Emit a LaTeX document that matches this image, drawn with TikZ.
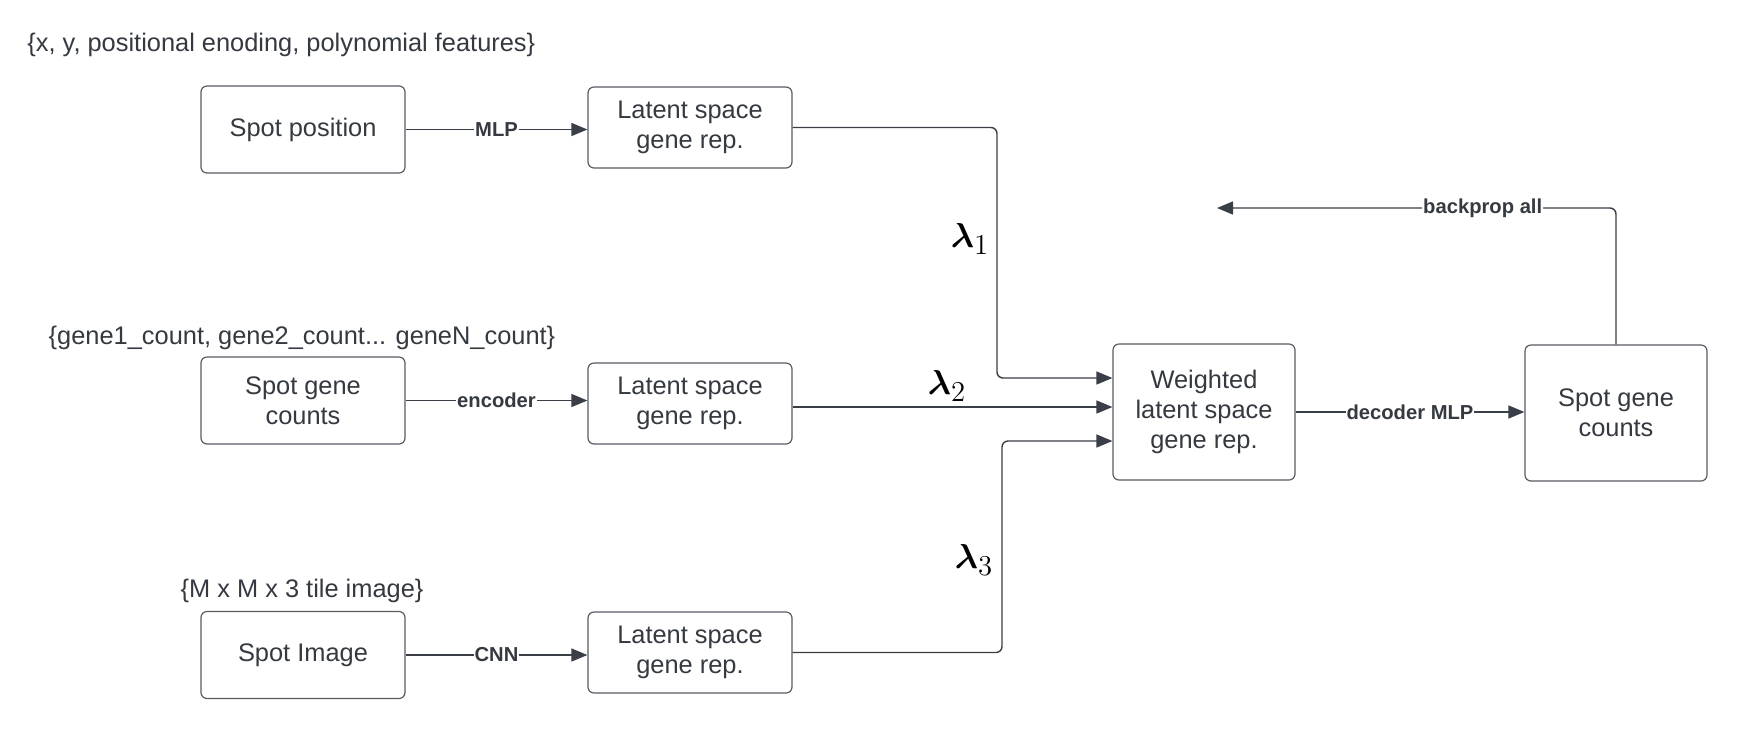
\documentclass[tikz,border=0pt]{standalone}
\usepackage{fontspec}
\usepackage{amsmath}
\setmainfont{Liberation Sans}
\usetikzlibrary{arrows.meta,calc}
\definecolor{ln}{HTML}{3A3F47}
\definecolor{tx}{HTML}{353A41}
\begin{document}
\begin{tikzpicture}[x=0.5pt,y=-0.5pt,
  box/.style={draw=ln!85,line width=0.6pt,rounded corners=3pt,align=center,text=tx,
    font=\fontsize{12.7pt}{15pt}\selectfont,inner sep=0pt},
  small/.style={box,minimum width=102pt,minimum height=43.5pt},
  lat/.style={box,minimum width=102pt,minimum height=40.5pt},
  big/.style={box,minimum width=91pt,minimum height=68pt},
  arr/.style={draw=ln,line width=0.7pt,-{Triangle[length=8pt,width=6.5pt]}},
  lbl/.style={fill=white,inner sep=0.5pt,text=tx,font=\bfseries\fontsize{10.1pt}{12pt}\selectfont},
  ttl/.style={text=tx,font=\fontsize{12.7pt}{15pt}\selectfont,inner sep=0pt},
  lam/.style={text=black,font=\fontsize{19pt}{22pt}\selectfont,inner sep=0pt}]
\useasboundingbox (0,0) rectangle (1742,752);
\fill[white] (0,0) rectangle (1742,752);
% titles
\node[ttl,anchor=west] (t1) at (27,45) {\{x, y, positional enoding, polynomial features\}};
\node[ttl] (t2) at (302,338) {\{gene1\_count, gene2\_count... geneN\_count\}};
\node[ttl] (t3) at (302,591) {\{M x M x 3 tile image\}};
% input boxes
\node[small] (sp) at (303,129.5) {Spot position};
\node[small] (sg) at (303,400.5) {Spot gene\\counts};
\node[small] (si) at (303,655) {Spot Image};
% latent boxes
\node[lat] (l1) at (690,127.5) {Latent space\\gene rep.};
\node[lat] (l2) at (690,403.5) {Latent space\\gene rep.};
\node[lat] (l3) at (690,652.5) {Latent space\\gene rep.};
% weighted and output
\node[big] (w) at (1204,412) {Weighted\\latent space\\gene rep.};
\node[big] (o) at (1616,413) {Spot gene\\counts};
% coordinates
\coordinate (c1) at (997,378);
\coordinate (c2) at ($(l2.east)+(0,3.5)$);
\coordinate (c3) at (1002,441);
\coordinate (bp) at (1217,208);
% connectors
\draw[arr] (sp.east) -- node[lbl]{MLP} (sp.east -| l1.west);
\draw[arr] (sg.east) -- node[lbl]{encoder} (sg.east -| l2.west);
\draw[arr] (si.east) -- node[lbl]{CNN} (si.east -| l3.west);
\draw[arr,rounded corners=3pt] (l1.east) -| (c1) -- (w.west |- c1);
\draw[arr] (c2) -- (c2 -| w.west);
\draw[arr,rounded corners=3pt] (l3.east) -| (c3) -- (w.west |- c3);
\draw[arr] (w.east) -- node[lbl]{decoder MLP} (w.east -| o.west);
\draw[arr,rounded corners=3pt] (o.north) |- node[lbl,pos=0.667]{backprop all} (bp);
% lambdas
\node[lam] (la1) at (970,239) {$\boldsymbol{\lambda}_1$};
\node[lam] (la2) at (947,386) {$\boldsymbol{\lambda}_2$};
\node[lam] (la3) at (974,560) {$\boldsymbol{\lambda}_3$};
\end{tikzpicture}
\end{document}
